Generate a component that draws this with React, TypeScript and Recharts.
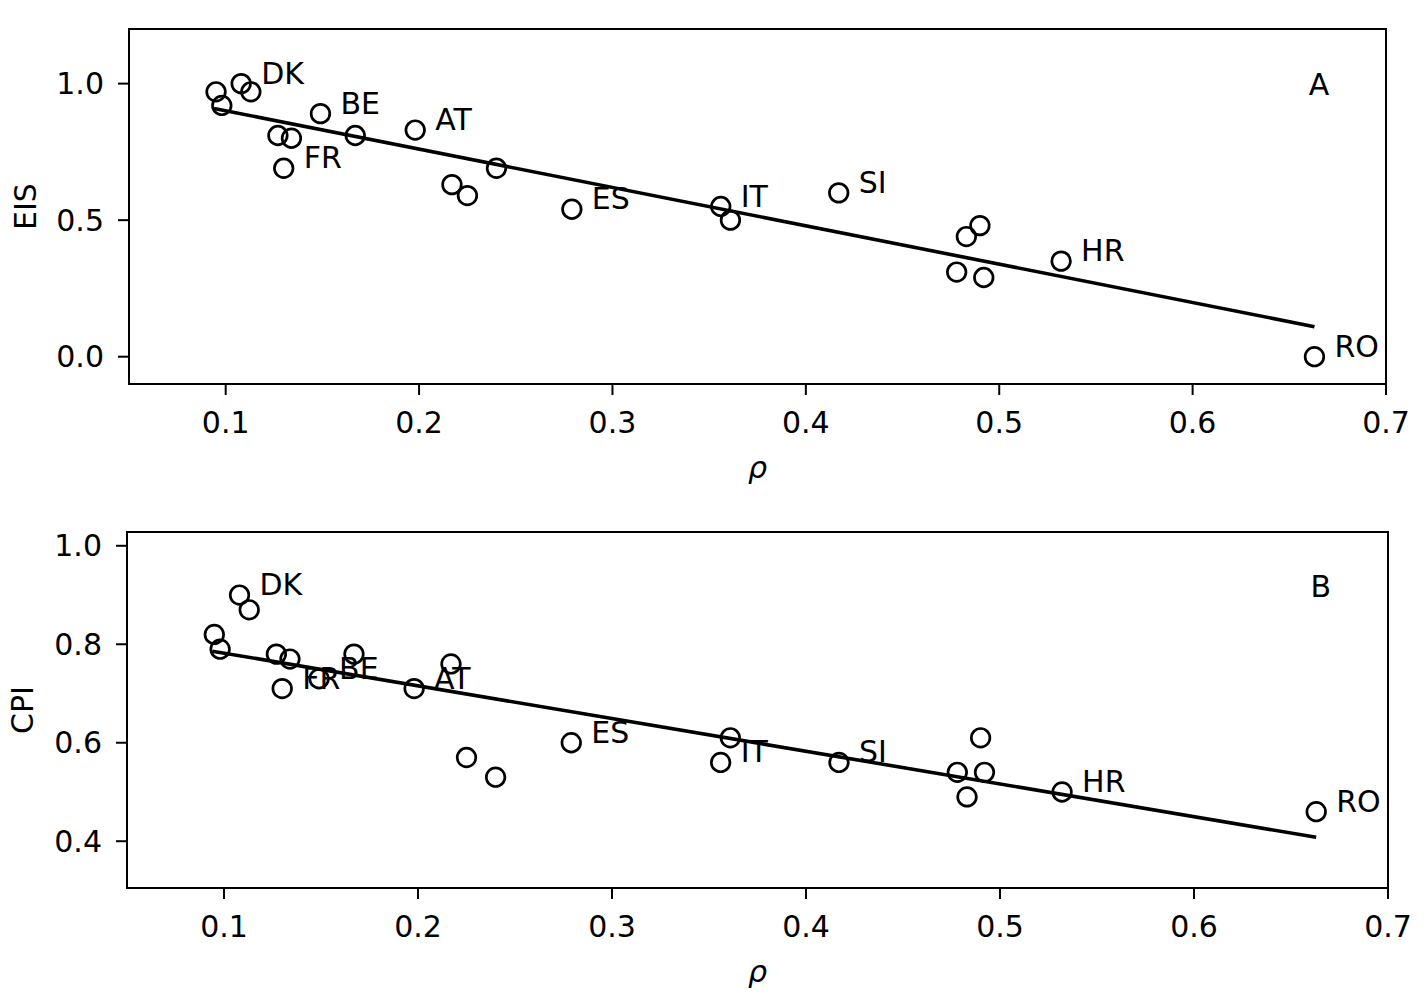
import React from 'react';
import {
  ScatterChart,
  Scatter,
  XAxis,
  YAxis,
  ReferenceArea,
  Label,
} from 'recharts';

const rho = [0.095, 0.098, 0.108, 0.113, 0.127, 0.134, 0.13, 0.149, 0.167, 0.198, 0.217, 0.225, 0.24, 0.279, 0.356, 0.361, 0.417, 0.478, 0.483, 0.49, 0.492, 0.532, 0.663];
const eis = [0.97, 0.92, 1.0, 0.97, 0.81, 0.8, 0.69, 0.89, 0.81, 0.83, 0.63, 0.59, 0.69, 0.54, 0.55, 0.5, 0.6, 0.31, 0.44, 0.48, 0.29, 0.35, 0.0];
const cpi = [0.82, 0.79, 0.9, 0.87, 0.78, 0.77, 0.71, 0.73, 0.78, 0.71, 0.76, 0.57, 0.53, 0.6, 0.56, 0.61, 0.56, 0.54, 0.49, 0.61, 0.54, 0.5, 0.46];
const countries = ['', '', 'DK', '', '', '', 'FR', 'BE', '', 'AT', '', '', '', 'ES', 'IT', '', 'SI', '', '', '', '', 'HR', 'RO'];

const fitRho = [0.094, 0.663];
const fitEis = [0.909, 0.11];
const fitCpi = [0.786, 0.408];

const xTicks = [0.1, 0.2, 0.3, 0.4, 0.5, 0.6, 0.7];
const eisTicks = [0, 0.5, 1];
const cpiTicks = [0.4, 0.6, 0.8, 1];

const FONT = '"DejaVu Sans", sans-serif';
const FS = 30;

const CircleShape = (props: any) => {
  const { cx, cy, payload } = props;
  return (
    <g>
      <circle cx={cx} cy={cy} r={9.3} fill="none" stroke="#000" strokeWidth={2.7} />
      {payload.name ? (
        <text x={cx + 20} y={cy} fontSize={FS} fontFamily={FONT} fill="#000">
          {payload.name}
        </text>
      ) : null}
    </g>
  );
};

const TagShape = (props: any) => (
  <text x={props.cx} y={props.cy} fontSize={FS} fontFamily={FONT} fill="#000">
    {props.payload.tag}
  </text>
);

const NoShape = () => <g />;

function Panel({
  values,
  fit,
  yName,
  domain,
  ticks,
  tag,
  tagY,
  top,
  height,
  margin,
  yLabelX,
}: any) {
  const pts = rho.map((r, i) => ({ x: r, y: values[i], name: countries[i] }));
  const line = fitRho.map((r, i) => ({ x: r, y: fit[i] }));
  const tagData = [{ x: 0.66, y: tagY, tag }];
  const tickStyle = { fontSize: FS, fontFamily: FONT, fill: '#000' };
  return (
    <div style={{ position: 'absolute', left: 0, top }}>
      <ScatterChart width={1428} height={height} margin={margin}>
        <XAxis
          type="number"
          dataKey="x"
          domain={[0.05, 0.7]}
          ticks={xTicks}
          allowDataOverflow
          axisLine={false}
          tickSize={11}
          tickMargin={17}
          tickLine={{ stroke: '#000', strokeWidth: 2 }}
          tick={tickStyle}
          tickFormatter={(v: number) => v.toFixed(1)}
          height={100}
        >
          <Label
            content={(p: any) => {
              const vb = p.viewBox;
              return (
                <text
                  x={vb.x + vb.width / 2}
                  y={vb.y + 94}
                  textAnchor="middle"
                  fontSize={FS}
                  fontFamily={FONT}
                  fontStyle="italic"
                  fill="#000"
                >
                  ρ
                </text>
              );
            }}
          />
        </XAxis>
        <YAxis
          type="number"
          dataKey="y"
          domain={domain}
          ticks={ticks}
          allowDataOverflow
          axisLine={false}
          tickSize={11}
          tickMargin={14}
          tickLine={{ stroke: '#000', strokeWidth: 2 }}
          tick={tickStyle}
          tickFormatter={(v: number) => v.toFixed(1)}
          width={120}
        >
          <Label
            content={(p: any) => {
              const vb = p.viewBox;
              const cy = vb.y + vb.height / 2;
              return (
                <text
                  x={yLabelX}
                  y={cy}
                  transform={`rotate(-90, ${yLabelX}, ${cy})`}
                  textAnchor="middle"
                  dominantBaseline="central"
                  fontSize={FS}
                  fontFamily={FONT}
                  fill="#000"
                >
                  {yName}
                </text>
              );
            }}
          />
        </YAxis>
        <ReferenceArea
          x1={0.05}
          x2={0.7}
          y1={domain[0]}
          y2={domain[1]}
          fill="none"
          fillOpacity={0}
          stroke="#000"
          strokeWidth={2}
          ifOverflow="visible"
        />
        <Scatter
          data={line}
          line={{ stroke: '#000', strokeWidth: 3.6 }}
          shape={NoShape}
          isAnimationActive={false}
        />
        <Scatter data={pts} shape={CircleShape} isAnimationActive={false} />
        <Scatter data={tagData} shape={TagShape} isAnimationActive={false} />
      </ScatterChart>
    </div>
  );
}

export default function App() {
  return (
    <div style={{ position: 'absolute', left: 0, top: 0, width: 1428, height: 1006, background: '#fff' }}>
      <Panel
        values={eis}
        fit={fitEis}
        yName="EIS"
        domain={[-0.1, 1.2]}
        ticks={eisTicks}
        tag="A"
        tagY={0.96}
        top={0}
        height={500}
        margin={{ top: 29, right: 42, bottom: 16, left: 9 }}
        yLabelX={25}
      />
      <Panel
        values={cpi}
        fit={fitCpi}
        yName="CPI"
        domain={[0.305, 1.028]}
        ticks={cpiTicks}
        tag="B"
        tagY={0.895}
        top={500}
        height={506}
        margin={{ top: 32, right: 40, bottom: 18, left: 7 }}
        yLabelX={22}
      />
    </div>
  );
}
